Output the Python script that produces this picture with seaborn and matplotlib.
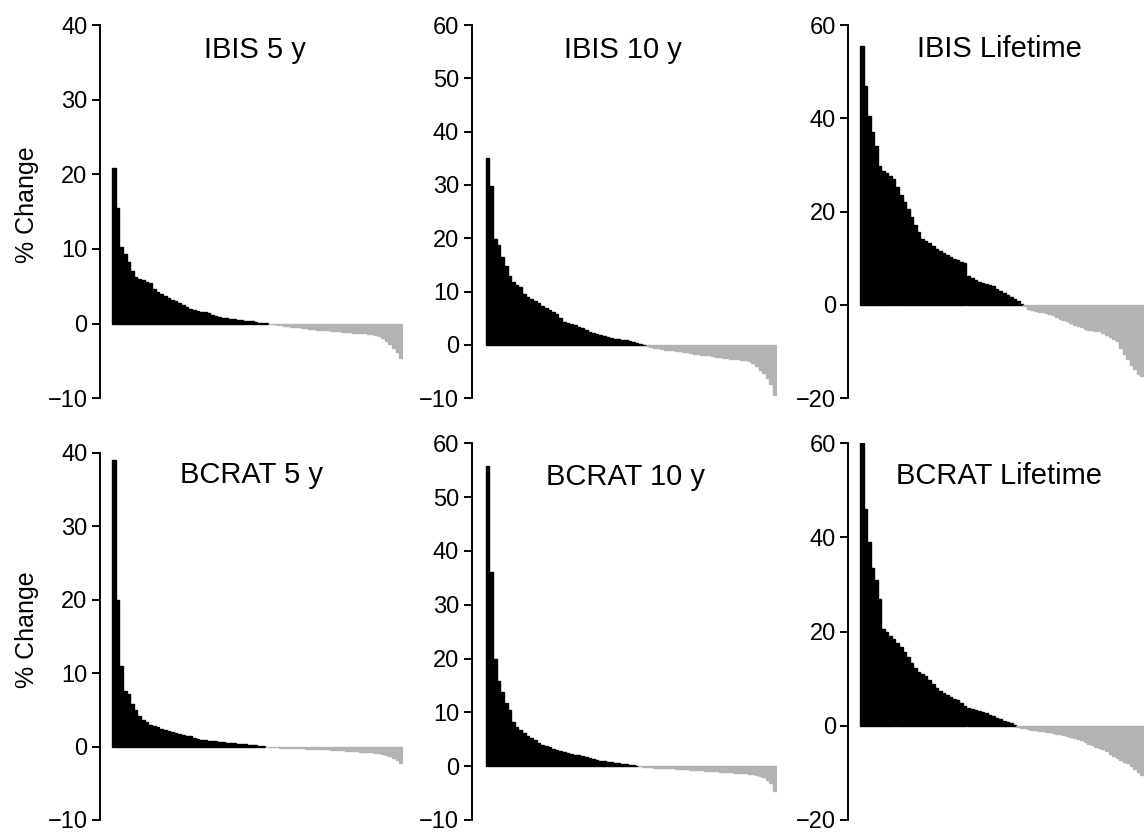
import numpy as np
import pandas as pd
import matplotlib
matplotlib.use("Agg")
import matplotlib.pyplot as plt
import seaborn as sns

# sorted % change per subject (~80 bars per panel)
ibis_5y = [20.8, 15.5, 10.3, 9.3, 8.3, 7.0, 6.3, 6.0, 5.8, 5.6,
           5.4, 4.6, 4.2, 4.0, 3.7, 3.4, 3.2, 3.0, 2.8, 2.5,
           2.2, 1.9, 1.8, 1.7, 1.6, 1.5, 1.4, 1.2, 1.0, 0.9,
           0.8, 0.7, 0.6, 0.6, 0.5, 0.5, 0.4, 0.3, 0.3, 0.2,
           0.1, 0.05, 0.02, -0.05, -0.1, -0.15, -0.2, -0.3, -0.35, -0.4,
           -0.45, -0.5, -0.6, -0.65, -0.7, -0.75, -0.8, -0.85, -0.9, -0.9,
           -0.95, -1.0, -1.05, -1.1, -1.1, -1.15, -1.2, -1.2, -1.25, -1.3,
           -1.35, -1.4, -1.5, -1.6, -1.9, -2.3, -2.7, -3.2, -3.8, -4.6]
ibis_10y = [35.1, 29.8, 19.8, 18.7, 16.5, 14.8, 12.9, 11.8, 11.2, 10.8,
            9.5, 9.0, 8.6, 8.3, 7.8, 7.3, 6.9, 6.5, 6.2, 5.8,
            5.0, 4.4, 4.2, 4.0, 3.8, 3.4, 3.1, 2.8, 2.5, 2.3,
            2.1, 1.8, 1.6, 1.5, 1.3, 1.2, 1.1, 1.0, 0.9, 0.8,
            0.6, 0.4, 0.2, 0.05, -0.1, -0.3, -0.5, -0.6, -0.75, -0.85,
            -0.9, -1.0, -1.1, -1.2, -1.3, -1.4, -1.5, -1.6, -1.7, -1.8,
            -1.85, -1.95, -2.05, -2.2, -2.3, -2.4, -2.5, -2.6, -2.65, -2.7,
            -2.8, -2.9, -3.0, -3.3, -3.9, -4.7, -5.3, -6.2, -7.3, -9.3]
ibis_life = [55.5, 47.0, 40.5, 37.0, 34.0, 29.8, 28.8, 28.3, 27.7, 27.0,
             25.2, 23.6, 22.0, 20.5, 18.8, 17.2, 15.6, 14.2, 13.7, 13.3,
             12.6, 11.9, 11.5, 11.1, 10.7, 10.3, 9.9, 9.6, 9.3, 8.9,
             6.2, 5.7, 5.3, 5.0, 4.8, 4.5, 4.2, 4.0, 3.4, 2.9,
             2.5, 2.1, 1.8, 1.3, 0.8, 0.2, -0.3, -0.8, -1.0, -1.2,
             -1.4, -1.6, -1.7, -1.9, -2.2, -2.6, -2.9, -3.2, -3.4, -3.8,
             -4.2, -4.5, -4.8, -5.1, -5.3, -5.4, -5.5, -5.6, -6.0, -6.4,
             -6.9, -7.3, -7.8, -9.2, -10.5, -11.6, -12.8, -13.8, -14.8, -15.3]
bcrat_5y = [39.0, 20.0, 11.0, 7.6, 7.1, 5.8, 5.0, 4.1, 3.6, 3.3,
            3.0, 2.8, 2.6, 2.4, 2.3, 2.1, 2.0, 1.8, 1.7, 1.6,
            1.5, 1.4, 1.2, 1.0, 0.95, 0.9, 0.8, 0.75, 0.7, 0.6,
            0.55, 0.5, 0.45, 0.42, 0.38, 0.34, 0.3, 0.26, 0.2, 0.15,
            0.1, 0.04, -0.03, -0.08, -0.1, -0.12, -0.14, -0.16, -0.18, -0.2,
            -0.2, -0.22, -0.25, -0.27, -0.3, -0.32, -0.34, -0.36, -0.38, -0.4,
            -0.42, -0.45, -0.48, -0.5, -0.55, -0.6, -0.63, -0.66, -0.7, -0.72,
            -0.76, -0.8, -0.85, -0.9, -0.95, -1.1, -1.3, -1.5, -1.8, -2.3]
bcrat_10y = [55.8, 36.0, 20.0, 15.9, 13.8, 11.8, 10.5, 8.2, 7.3, 6.7,
             6.1, 5.6, 5.2, 4.8, 4.4, 4.0, 3.8, 3.5, 3.2, 3.0,
             2.8, 2.6, 2.4, 2.3, 2.1, 2.0, 1.9, 1.7, 1.5, 1.3,
             1.1, 1.0, 0.9, 0.85, 0.75, 0.65, 0.55, 0.45, 0.35, 0.25,
             0.15, 0.03, -0.05, -0.1, -0.15, -0.2, -0.25, -0.3, -0.32, -0.35,
             -0.4, -0.42, -0.46, -0.5, -0.55, -0.6, -0.65, -0.7, -0.72, -0.78,
             -0.82, -0.86, -0.9, -0.95, -1.0, -1.05, -1.1, -1.15, -1.2, -1.25,
             -1.3, -1.35, -1.4, -1.5, -1.6, -1.8, -2.1, -2.5, -3.2, -4.6]
bcrat_life = [61.3, 46.0, 39.0, 33.5, 31.0, 27.0, 20.6, 19.9, 19.1, 18.4,
              17.6, 16.8, 15.6, 14.6, 13.4, 12.2, 11.5, 11.0, 10.6, 9.7,
              8.9, 8.1, 7.5, 7.0, 6.6, 6.2, 5.8, 5.4, 4.8, 4.3,
              3.8, 3.6, 3.4, 3.2, 3.0, 2.7, 2.3, 2.0, 1.7, 1.4,
              1.1, 0.8, 0.5, 0.1, -0.2, -0.4, -0.5, -0.6, -0.8, -0.9,
              -1.0, -1.2, -1.3, -1.4, -1.6, -1.7, -1.8, -1.9, -2.1, -2.3,
              -2.6, -2.9, -3.1, -3.4, -3.8, -4.0, -4.4, -4.7, -5.0, -5.4,
              -5.9, -6.4, -6.8, -7.2, -7.6, -8.0, -8.6, -9.2, -9.8, -10.4]

titles = ["IBIS 5 y", "IBIS 10 y", "IBIS Lifetime",
          "BCRAT 5 y", "BCRAT 10 y", "BCRAT Lifetime"]
series = [ibis_5y, ibis_10y, ibis_life, bcrat_5y, bcrat_10y, bcrat_life]
y_ranges = [(-10, 40), (-10, 60), (-20, 60), (-10, 40), (-10, 60), (-20, 60)]
y_steps = [10, 10, 20, 10, 10, 20]

W, H = 1144, 832
# axes boxes in pixels: left spine x, right x, top y, bottom y, first-bar x
boxes = [(100, 403, 25, 398.3, 112), (471.7, 776.7, 25, 398.3, 485.7),
         (848.3, 1144, 25, 398.3, 860),
         (100, 403, 452.7, 820, 112), (471.7, 776.7, 443.3, 820, 485.7),
         (848.3, 1144, 443.3, 820, 860)]
title_pos = [(255, 50), (623, 50), (999, 49), (251, 475), (625, 477), (999, 476)]

sns.set_style("ticks")
plt.rcParams["font.family"] = ["Liberation Sans", "DejaVu Sans"]
plt.rcParams["text.color"] = "black"
plt.rcParams["axes.edgecolor"] = "black"
plt.rcParams["ytick.color"] = "black"
plt.rcParams["ytick.labelcolor"] = "black"

fig = plt.figure(figsize=(W / 100, H / 100), dpi=100)

for k, vals in enumerate(series):
    l, r, t, b, x0 = boxes[k]
    ax = fig.add_axes([l / W, 1 - b / H, (r - l) / W, (b - t) / H])
    n = len(vals)
    df = pd.DataFrame({"idx": np.arange(n), "pct": vals})
    df["sign"] = np.where(df["pct"] >= 0, "pos", "neg")
    sns.barplot(data=df, x="idx", y="pct", hue="sign",
                palette={"pos": "black", "neg": "#b3b3b3"},
                dodge=False, width=1.0, legend=False, ax=ax)
    for p in ax.patches:
        p.set_edgecolor(p.get_facecolor())
        p.set_linewidth(1.0)

    lo, hi = y_ranges[k]
    ax.set_ylim(lo, hi)
    ax.set_yticks(np.arange(lo, hi + 1, y_steps[k]))
    span = r - x0
    ax.set_xlim(-0.5 - (x0 - l) * n / span, n - 0.5)
    ax.set_xticks([])
    ax.set_xlabel("")
    ax.set_ylabel("")
    sns.despine(ax=ax, bottom=True)
    ax.spines["left"].set_linewidth(1.4)
    ax.tick_params(axis="y", labelsize=17, length=6, width=1.4, pad=3)

    cx, cy = title_pos[k]
    fig.text(cx / W, 1 - cy / H, titles[k], fontsize=21,
             ha="center", va="center")

for cy in (205, 630):
    fig.text(27 / W, 1 - cy / H, "% Change", rotation=90, fontsize=18,
             ha="center", va="center")

fig.savefig("out.png", dpi=100, facecolor="white")
